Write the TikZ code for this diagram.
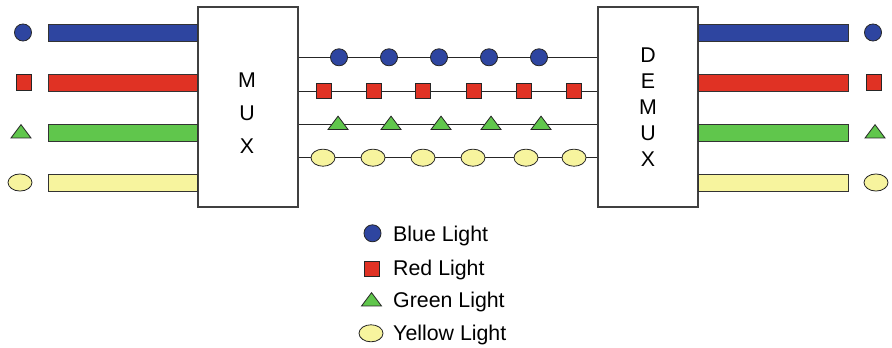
\documentclass[tikz,border=0pt]{standalone}
\usepackage{fontspec}
\setmainfont{Liberation Sans}
\usetikzlibrary{shapes.geometric}

\definecolor{lblue}{RGB}{46,69,160}
\definecolor{lred}{RGB}{224,50,36}
\definecolor{lgreen}{RGB}{96,198,76}
\definecolor{lyellow}{RGB}{247,244,158}

\tikzset{
	sym/.style={draw=black!85, line width=0.6pt, inner sep=0pt},
	bluedot/.style={sym, circle, fill=lblue, minimum size=12.8pt},
	redsq/.style={sym, rectangle, fill=lred, minimum size=11.6pt},
	greentri/.style={sym, isosceles triangle, shape border rotate=90, isosceles triangle stretches, minimum width=15pt, minimum height=10pt, fill=lgreen},
	yellowov/.style={sym, ellipse, fill=lyellow, minimum width=18pt, minimum height=12.8pt},
	muxbox/.style={draw=black!75, line width=0.9pt, minimum width=75pt, minimum height=150pt, inner sep=0pt},
	boxtext/.style={align=center, inner sep=0pt},
	bar/.style={draw=black!80, line width=0.6pt},
	fibre/.style={draw=black!85, line width=0.7pt},
	legendtext/.style={anchor=west, font=\fontsize{16}{19}\selectfont}
}

\begin{document}
\begin{tikzpicture}[x=0.75pt, y=-0.75pt]

	\useasboundingbox (0,0) rectangle (892,348);

	% mux and demux boxes
	\node[muxbox] (mux) at (248,107) {};
	\node[muxbox] (demux) at (648,107) {};
	\node[boxtext, font=\fontsize{16}{24.75}\selectfont] (muxlbl) at (247,113.5) {M\\U\\X};
	\node[boxtext, font=\fontsize{16}{19.5}\selectfont] (demuxlbl) at (648,107.5) {D\\E\\M\\U\\X};

	% draw input and output bars
	\foreach \y/\c in {32.5/lblue, 82.5/lred, 132.5/lgreen, 182.5/lyellow}
	{
		\filldraw[bar, fill=\c] (48,\y-8.5) rectangle (mux.west |- 0,\y+8.5);
		\filldraw[bar, fill=\c] (demux.east |- 0,\y-8.5) rectangle (848,\y+8.5);
	}

	% draw the fibre lines
	\foreach \y in {57.3, 91, 124.3, 157.7}
	{
		\draw[fibre] (mux.east |- 0,\y) -- (demux.west |- 0,\y);
	}

	% draw the symbols on the fibre
	\foreach \x [count=\i] in {339, 389, 439, 489, 539}
	{
		\node[bluedot] (fb\i) at (\x,57.3) {};
	}
	\foreach \x [count=\i] in {324, 374, 423, 474, 524, 574}
	{
		\node[redsq] (fr\i) at (\x,91) {};
	}
	\foreach \x [count=\i] in {338, 391, 441, 491, 541}
	{
		\node[greentri] (fg\i) at (\x,124.5) {};
	}
	\foreach \x [count=\i] in {323, 373, 423, 473, 526, 574}
	{
		\node[yellowov] (fy\i) at (\x,157.7) {};
	}

	% draw the symbols at both ends
	\node[bluedot] (inb) at (23,32.5) {};
	\node[redsq] (inr) at (24,82.5) {};
	\node[greentri] (ing) at (21,133) {};
	\node[yellowov] (iny) at (20,182.5) {};
	\node[bluedot] (outb) at (873,32.5) {};
	\node[redsq] (outr) at (874,82.5) {};
	\node[greentri] (outg) at (875,133) {};
	\node[yellowov] (outy) at (876,182.5) {};

	% legend
	\node[bluedot] (kb) at (372.5,233.3) {};
	\node[redsq] (kr) at (372,269) {};
	\node[greentri] (kg) at (371.5,301) {};
	\node[yellowov] (ky) at (371,333.3) {};
	\node[legendtext] (kbl) at (388.5,235.5) {Blue Light};
	\node[legendtext] (krl) at (388.5,269.5) {Red Light};
	\node[legendtext] (kgl) at (388.5,302) {Green Light};
	\node[legendtext] (kyl) at (388.5,334.5) {Yellow Light};

\end{tikzpicture}
\end{document}
